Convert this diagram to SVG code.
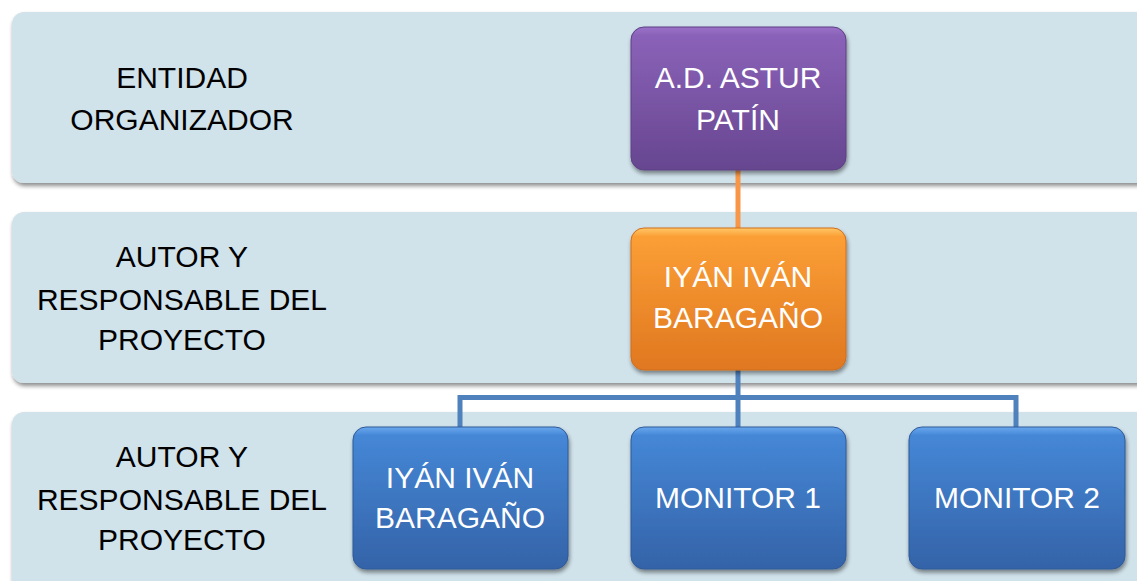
<svg xmlns="http://www.w3.org/2000/svg" width="1137" height="581" viewBox="0 0 1137 581">
<defs>
<filter id="sh" x="-5%" y="-10%" width="110%" height="125%">
<feGaussianBlur in="SourceAlpha" stdDeviation="2"/>
<feOffset dx="1" dy="3" result="b"/>
<feComponentTransfer><feFuncA type="linear" slope="0.45"/></feComponentTransfer>
<feMerge><feMergeNode/><feMergeNode in="SourceGraphic"/></feMerge>
</filter>
<linearGradient id="gp" x1="0" y1="0" x2="0" y2="1">
<stop offset="0" stop-color="#9a72c9"/><stop offset="0.06" stop-color="#8a62b8"/><stop offset="1" stop-color="#674690"/>
</linearGradient>
<linearGradient id="go" x1="0" y1="0" x2="0" y2="1">
<stop offset="0" stop-color="#ffc766"/><stop offset="0.06" stop-color="#fb9f36"/><stop offset="1" stop-color="#e07720"/>
</linearGradient>
<linearGradient id="gb" x1="0" y1="0" x2="0" y2="1">
<stop offset="0" stop-color="#6aa8ee"/><stop offset="0.06" stop-color="#4587d6"/><stop offset="1" stop-color="#3463a8"/>
</linearGradient>
<style>
.band{fill:#d0e2ea;}
.lbl{font-family:"Liberation Sans",Arial,sans-serif;font-size:30px;fill:#000;text-anchor:middle;}
.nt{font-family:"Liberation Sans",Arial,sans-serif;font-size:30px;fill:#fff;text-anchor:middle;}
.conO{stroke:#f79646;stroke-width:5;fill:none;}
.conB{stroke:#4f81bd;stroke-width:5;fill:none;}
</style>
</defs>
<g id="bands">
<rect class="band" x="12" y="12" width="1136" height="171" rx="12" filter="url(#sh)"/>
<rect class="band" x="12" y="212" width="1136" height="171" rx="12" filter="url(#sh)"/>
<rect class="band" x="12" y="412" width="1136" height="190" rx="12" filter="url(#sh)"/>
</g>
<g id="labels">
<text class="lbl" x="182" y="88">ENTIDAD</text>
<text class="lbl" x="182" y="130">ORGANIZADOR</text>
<text class="lbl" x="182" y="267">AUTOR Y</text>
<text class="lbl" x="182" y="310">RESPONSABLE DEL</text>
<text class="lbl" x="182" y="350">PROYECTO</text>
<text class="lbl" x="182" y="467">AUTOR Y</text>
<text class="lbl" x="182" y="510">RESPONSABLE DEL</text>
<text class="lbl" x="182" y="550">PROYECTO</text>
</g>
<g id="connectors">
<line class="conO" x1="738" y1="168" x2="738" y2="230"/>
<path class="conB" d="M738 368 V429 M738 397.5 H460 V429 M738 397.5 H1016 V429"/>
</g>
<g id="node-astur">
<rect x="631" y="27" width="215" height="143" rx="13" fill="url(#gp)" stroke="#5c4084" stroke-width="1" filter="url(#sh)"/>
<text class="nt" x="738" y="88">A.D. ASTUR</text>
<text class="nt" x="738" y="130">PATÍN</text>
</g>
<g id="node-iyan-main">
<rect x="631" y="228" width="215" height="142" rx="13" fill="url(#go)" stroke="#d06e1c" stroke-width="1" filter="url(#sh)"/>
<text class="nt" x="738" y="287">IYÁN IVÁN</text>
<text class="nt" x="738" y="328">BARAGAÑO</text>
</g>
<g id="node-iyan">
<rect x="353" y="427" width="215" height="142" rx="13" fill="url(#gb)" stroke="#2f5a98" stroke-width="1" filter="url(#sh)"/>
<text class="nt" x="460" y="488">IYÁN IVÁN</text>
<text class="nt" x="460" y="528">BARAGAÑO</text>
</g>
<g id="node-monitor1">
<rect x="631" y="427" width="215" height="142" rx="13" fill="url(#gb)" stroke="#2f5a98" stroke-width="1" filter="url(#sh)"/>
<text class="nt" x="738" y="508">MONITOR 1</text>
</g>
<g id="node-monitor2">
<rect x="909" y="427" width="216" height="142" rx="13" fill="url(#gb)" stroke="#2f5a98" stroke-width="1" filter="url(#sh)"/>
<text class="nt" x="1017" y="508">MONITOR 2</text>
</g>
</svg>
